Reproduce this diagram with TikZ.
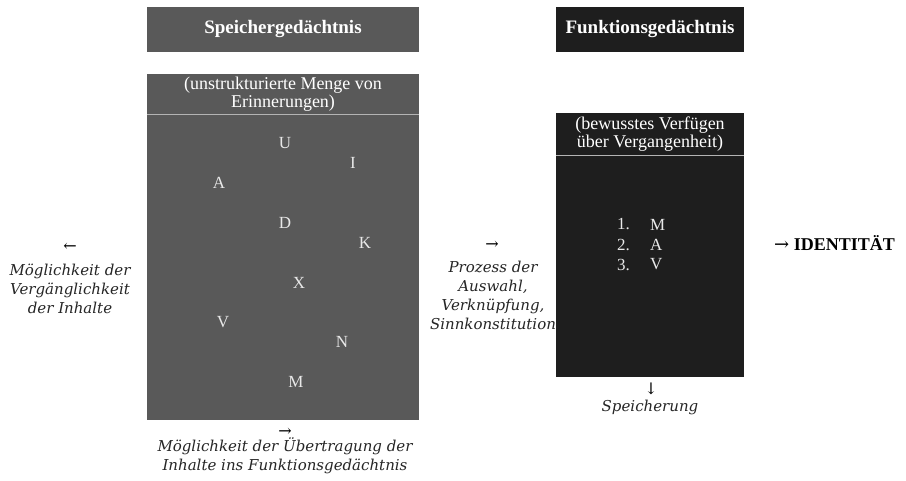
\documentclass[tikz,border=0pt]{standalone}
\usepackage{fontspec}
\setmainfont{Liberation Serif}
\newfontfamily\itfont{DejaVu Serif}
\definecolor{speicher}{HTML}{595959}
\definecolor{funktion}{HTML}{1E1E1E}
\definecolor{sepline}{HTML}{B4B4B4}
\definecolor{lettercol}{HTML}{E8E8E8}
\begin{document}
\begin{tikzpicture}[x=1pt,y=-1pt,
  panel/.style={inner sep=0pt, outer sep=0pt},
  hdrtext/.style={text=white, font=\fontsize{19}{21}\selectfont\bfseries},
  boxtext/.style={text=white, align=center, inner sep=0pt, font=\fontsize{18}{17.5}\selectfont},
  letter/.style={text=lettercol, font=\fontsize{17}{19}\selectfont},
  note/.style={align=center, text=black!85, font=\itfont\itshape\fontsize{15}{19}\selectfont},
  arrowsym/.style={text=black, font=\itfont\fontsize{16}{18}\selectfont}]
\useasboundingbox[fill=white] (0,0) rectangle (906,480);
% Speichergedaechtnis
\node[panel, fill=speicher, minimum width=272pt, minimum height=45pt] (h1) at (283,29.5) {};
\node[hdrtext] (h1t) at (h1.center) {Speichergedächtnis};
\node[panel, fill=speicher, minimum width=272pt, minimum height=346pt] (b1) at (283,247) {};
\coordinate (s1l) at (147,114);
\coordinate (s1r) at (419,114);
\draw[sepline, line width=1pt] (s1l) -- (s1r);
\node[boxtext] (b1t) at (283,94) {(unstrukturierte Menge von\\Erinnerungen)};
\node[letter] (lU) at (285,143) {U};
\node[letter] (lI) at (353,163) {I};
\node[letter] (lA) at (219,183) {A};
\node[letter] (lD) at (285,223) {D};
\node[letter] (lK) at (365,243) {K};
\node[letter] (lX) at (299,283) {X};
\node[letter] (lV) at (223,322) {V};
\node[letter] (lN) at (342,342) {N};
\node[letter] (lM) at (296,382) {M};
% Funktionsgedaechtnis
\node[panel, fill=funktion, minimum width=188pt, minimum height=45pt] (h2) at (650,29.5) {};
\node[hdrtext] (h2t) at (h2.center) {Funktionsgedächtnis};
\node[panel, fill=funktion, minimum width=188pt, minimum height=264pt] (b2) at (650,245) {};
\coordinate (s2l) at (556,155);
\coordinate (s2r) at (744,155);
\draw[sepline, line width=1pt] (s2l) -- (s2r);
\node[boxtext] (b2t) at (650,134) {(bewusstes Verfügen\\über Vergangenheit)};
\node[letter, anchor=west, inner sep=0pt] (n1) at (617,224.5) {1.};
\node[letter, anchor=west, inner sep=0pt] (n2) at (617,244.5) {2.};
\node[letter, anchor=west, inner sep=0pt] (n3) at (617,264.5) {3.};
\node[letter, anchor=west, inner sep=0pt] (m1) at (650,224.5) {M};
\node[letter, anchor=west, inner sep=0pt] (m2) at (650,244.5) {A};
\node[letter, anchor=west, inner sep=0pt] (m3) at (650,264.5) {V};
% annotations
\node[arrowsym] (al) at (70,247) {←};
\node[note] (tl) at (70,289) {Möglichkeit der\\Vergänglichkeit\\der Inhalte};
\node[arrowsym] (am) at (492,245) {→};
\node[note] (tm) at (493,295) {Prozess der\\Auswahl,\\Verknüpfung,\\Sinnkonstitution};
\node[arrowsym] (ab) at (285,432) {→};
\node[note] (tb) at (285,456) {Möglichkeit der Übertragung der\\Inhalte ins Funktionsgedächtnis};
\node[arrowsym] (as) at (651,389) {↓};
\node[note] (ts) at (650,407) {Speicherung};
\node[font=\fontsize{18}{20}\selectfont, anchor=west, inner sep=0pt] (id) at (774,243) {{\itfont →} \textbf{IDENTITÄT}};
\end{tikzpicture}
\end{document}
